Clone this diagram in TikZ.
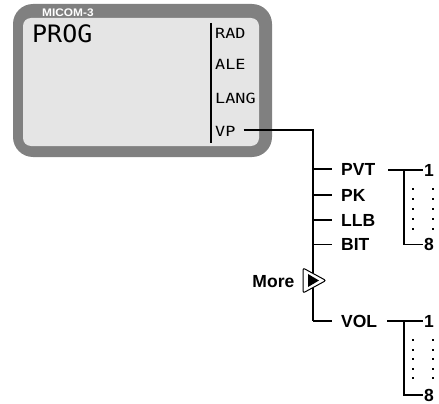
\documentclass[tikz,border=0pt]{standalone}
\usepackage{fontspec}
\setmainfont{Liberation Sans}
\newfontfamily\lcdfont{DejaVu Sans Mono}
\definecolor{bezel}{HTML}{808080}
\definecolor{screen}{HTML}{E5E5E5}
\begin{document}
\begin{tikzpicture}[x=1pt,y=-1pt,
  lbl/.style={font=\bfseries\fontsize{17.5}{20}\selectfont, inner sep=0pt, anchor=west},
  lcd/.style={font=\lcdfont\fontsize{14}{16}\selectfont, inner sep=0pt, anchor=west},
  wire/.style={line width=1.6pt},
  subwire/.style={line width=1.2pt},
  dotmark/.style={fill=black}]
\useasboundingbox (0,0) rectangle (439,404);
% display
\fill[bezel, rounded corners=20pt] (13,4) rectangle (272,157);
\fill[screen, rounded corners=8pt] (23,18) rectangle (259,146);
\node[font=\bfseries\fontsize{11}{12}\selectfont, text=white, inner sep=0pt, anchor=west] (title) at (42,13) {\scalebox{1.08}[1]{MICOM-3}};
\node[font=\lcdfont\fontsize{24}{26}\selectfont, inner sep=0pt, anchor=west] (prog) at (32,33.5) {\scalebox{1.04}[1]{PROG}};
\draw[line width=2pt] (210.7,23) -- (210.7,143);
\node[lcd] (rad) at (215,33) {\scalebox{1.2}[1]{RAD}};
\node[lcd] (ale) at (215,64) {\scalebox{1.2}[1]{ALE}};
\node[lcd] (lang) at (215,98.5) {\scalebox{1.2}[1]{LANG}};
\node[lcd] (vp) at (215,131.5) {\scalebox{1.2}[1]{VP}};
% junctions
\coordinate (j0) at (313,130);
\coordinate (j1) at (313,169);
\coordinate (j2) at (313,195);
\coordinate (j3) at (313,220);
\coordinate (j4) at (313,244.5);
\coordinate (j5) at (313,321);
% labels
\node[lbl] (pvt) at (341,169) {PVT};
\node[lbl] (pk) at (341,195) {PK};
\node[lbl] (llb) at (341,220) {LLB};
\node[lbl] (bit) at (341,244.5) {BIT};
\node[lbl] (vol) at (341,321) {VOL};
\node[lbl, anchor=east] (more) at (294.5,282) {More};
% trunk
\draw[wire] ([xshift=8pt]vp.east |- j0) -- (j0) -- (j5);
\foreach \j/\n in {j1/pvt, j2/pk, j3/llb, j4/bit, j5/vol}
  \draw[wire] (\j) -- ([xshift=-9pt]\n.west);
% more triangle
\coordinate (tA) at (303,268);
\coordinate (tB) at (303,293);
\coordinate (tC) at (326,280.5);
\draw[fill=white, line width=1pt, rounded corners=2pt] (tA) -- (tB) -- (tC) -- cycle;
\fill[black] (308,274) -- (308,287) -- (319,280.5) -- cycle;
% PVT sub-branch
\node[lbl] (one1) at (424,170) {1};
\node[lbl] (eight1) at (424,244.5) {8};
\coordinate (k1) at (404,170);
\draw[subwire] ([xshift=13pt]pvt.east |- one1) -- ([xshift=-1.5pt]one1.west);
\draw[subwire] (k1) |- ([xshift=-1.5pt]eight1.west);
\foreach \y in {188,198,208,218,228} {
  \fill[dotmark] (412,\y) rectangle ++(2,2);
  \fill[dotmark] (432,\y) rectangle ++(2,2);
}
% VOL sub-branch
\node[lbl] (one2) at (424,321) {1};
\node[lbl] (eight2) at (424,395) {8};
\coordinate (k2) at (404,321);
\draw[subwire] ([xshift=10pt]vol.east |- one2) -- ([xshift=-1.5pt]one2.west);
\draw[subwire] (k2) |- ([xshift=-1.5pt]eight2.west);
\foreach \y in {339,348.5,358,367.5,377} {
  \fill[dotmark] (412,\y) rectangle ++(2,2);
  \fill[dotmark] (432,\y) rectangle ++(2,2);
}
\end{tikzpicture}
\end{document}
